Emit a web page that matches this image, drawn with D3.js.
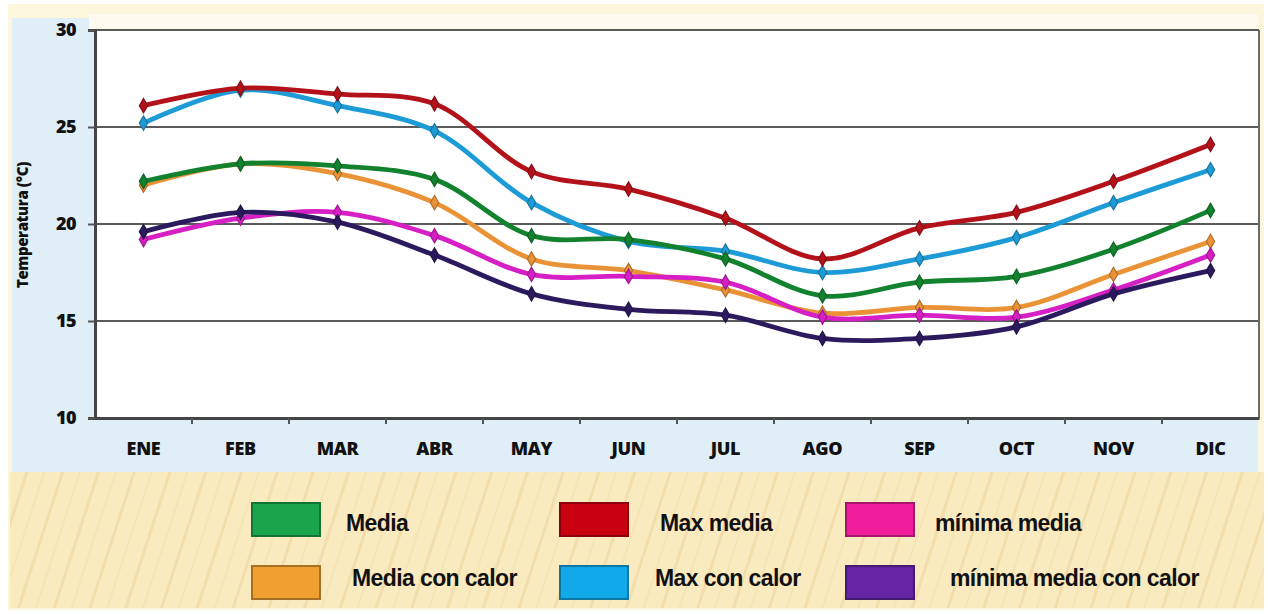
<!DOCTYPE html>
<html>
<head>
<meta charset="utf-8">
<script src="https://cdn.jsdelivr.net/npm/d3@7"></script>
<style>
  html, body { margin: 0; padding: 0; background: #ffffff; }
  svg { display: block; }
</style>
</head>
<body>
<svg id="chart" width="1268" height="614"></svg>
<script>
const months = ["ENE","FEB","MAR","ABR","MAY","JUN","JUL","AGO","SEP","OCT","NOV","DIC"];
const yTicks = [10, 15, 20, 25, 30];

const media            = [22.2, 23.1, 23.0, 22.3, 19.4, 19.2, 18.2, 16.3, 17.0, 17.3, 18.7, 20.7];
const maxMedia         = [26.1, 27.0, 26.7, 26.2, 22.7, 21.8, 20.3, 18.2, 19.8, 20.6, 22.2, 24.1];
const minimaMedia      = [19.2, 20.3, 20.6, 19.4, 17.4, 17.3, 17.0, 15.2, 15.3, 15.2, 16.6, 18.4];
const mediaConCalor    = [22.0, 23.1, 22.6, 21.1, 18.2, 17.6, 16.6, 15.4, 15.7, 15.7, 17.4, 19.1];
const maxConCalor      = [25.2, 26.9, 26.1, 24.8, 21.1, 19.1, 18.6, 17.5, 18.2, 19.3, 21.1, 22.8];
const minimaConCalor   = [19.6, 20.6, 20.1, 18.4, 16.4, 15.6, 15.3, 14.1, 14.1, 14.7, 16.4, 17.6];

const seriesNames  = ["Media", "Max media", "mínima media", "Media con calor", "Max con calor", "mínima media con calor"];
const seriesValues = [media, maxMedia, minimaMedia, mediaConCalor, maxConCalor, minimaConCalor];
const lineColors   = ["#13822f", "#b3121a", "#d61fc4", "#ea9336", "#1d9bd6", "#2c1a5e"];
const swatchColors = ["#1aa54c", "#c8000f", "#f01e9a", "#f0a030", "#12a9e8", "#6424a4"];

const svg = d3.select("#chart");
const W = 1268, H = 614;
const plot = {left: 95, right: 1259, top: 30, bottom: 418};

// defs: stripe pattern for legend area
const defs = svg.append("defs");
const pat = defs.append("pattern").attr("id","stripes").attr("patternUnits","userSpaceOnUse")
  .attr("width", 34).attr("height", 34).attr("patternTransform","rotate(18)");
pat.append("rect").attr("width",34).attr("height",34).attr("fill","#faeac0");
pat.append("rect").attr("x",0).attr("width",3).attr("height",34).attr("fill","#f1dba6").attr("opacity",0.8);
pat.append("rect").attr("x",17).attr("width",2).attr("height",34).attr("fill","#f5e2b2").attr("opacity",0.8);

// backgrounds
svg.append("rect").attr("x",0).attr("y",0).attr("width",W).attr("height",H).attr("fill","#ffffff");
svg.append("rect").attr("x",8).attr("y",4).attr("width",W-12).attr("height",606).attr("fill","#fcf6dc");
svg.append("rect").attr("x",12).attr("y",18).attr("width",W-22).attr("height",454).attr("fill","#dfeef7");
svg.append("rect").attr("x",plot.left - 6).attr("y",14).attr("width",W - plot.left - 4).attr("height",plot.top - 14).attr("fill","#fdfbf0");
svg.append("rect").attr("x",10).attr("y",472).attr("width",W-14).attr("height",136).attr("fill","url(#stripes)");

const x = d3.scaleBand().domain(months).range([plot.left, plot.right]);
const y = d3.scaleLinear().domain([10, 30]).range([plot.bottom, plot.top]);

// plot area
svg.append("rect").attr("x",plot.left).attr("y",plot.top)
  .attr("width",plot.right-plot.left).attr("height",plot.bottom-plot.top).attr("fill","#ffffff");

// gridlines
svg.append("g").selectAll("line").data(yTicks.filter(t => t > 10)).join("line")
  .attr("x1", plot.left).attr("x2", plot.right)
  .attr("y1", d => y(d)).attr("y2", d => y(d))
  .attr("stroke", "#5a5a5a").attr("stroke-width", 2.2);

// right border
svg.append("line").attr("x1",plot.right).attr("x2",plot.right).attr("y1",plot.top).attr("y2",plot.bottom)
  .attr("stroke","#6a6a6a").attr("stroke-width",2);

// y axis
const yAxis = d3.axisLeft(y).tickValues(yTicks).tickSize(7).tickPadding(12);
const gy = svg.append("g").attr("transform",`translate(${plot.left},0)`).call(yAxis);
gy.select(".domain").attr("stroke","#444").attr("stroke-width",3);
gy.selectAll(".tick line").attr("stroke","#555").attr("stroke-width",2);
gy.selectAll(".tick text").attr("font-family","'Open Sans', sans-serif").attr("font-weight",800)
  .attr("font-size",18).attr("fill","#111").attr("letter-spacing","-0.6");

// x axis
const xAxis = d3.axisBottom(x).tickSize(0).tickPadding(24);
const gx = svg.append("g").attr("transform",`translate(0,${plot.bottom})`).call(xAxis);
gx.select(".domain").attr("stroke","#444").attr("stroke-width",3);
gx.selectAll(".tick text").attr("font-family","'Open Sans', sans-serif").attr("font-weight",800)
  .attr("font-size",18).attr("fill","#111").attr("letter-spacing","-0.3");
// category boundary ticks
svg.append("g").selectAll("line").data(months.slice(1)).join("line")
  .attr("x1", d => x(d)).attr("x2", d => x(d))
  .attr("y1", plot.bottom).attr("y2", plot.bottom + 6)
  .attr("stroke","#555").attr("stroke-width",2);

// y axis title
svg.append("text").attr("transform","translate(28,225) rotate(-90)")
  .attr("text-anchor","middle").attr("font-family","'Open Sans', sans-serif")
  .attr("font-weight",800).attr("font-size",15).attr("fill","#111").attr("letter-spacing","-0.4")
  .text("Temperatura (°C)");

// lines
const line = d3.line()
  .x((d, i) => x(months[i]) + x.bandwidth() / 2)
  .y(d => y(d))
  .curve(d3.curveCatmullRom.alpha(0.5));

const order = [3, 4, 0, 1, 2, 5];
const gl = svg.append("g");
order.forEach(k => {
  gl.append("path").datum(seriesValues[k]).attr("d", line)
    .attr("fill","none").attr("stroke", lineColors[k]).attr("stroke-width", 4.8)
    .attr("stroke-linejoin","round").attr("stroke-linecap","round");
  gl.append("g").selectAll("path").data(seriesValues[k]).join("path")
    .attr("d", d3.symbol(d3.symbolDiamond, 60))
    .attr("transform", (d, i) => `translate(${x(months[i]) + x.bandwidth()/2},${y(d)})`)
    .attr("fill", lineColors[k]).attr("stroke", d3.color(lineColors[k]).darker(0.8)).attr("stroke-width", 1.2);
});

// legend
const legendPos = [
  {sx: 252, sy: 503, tx: 346, ty: 531},
  {sx: 560, sy: 503, tx: 660, ty: 531},
  {sx: 846, sy: 503, tx: 935, ty: 531},
  {sx: 252, sy: 566, tx: 352, ty: 586},
  {sx: 560, sy: 566, tx: 655, ty: 586},
  {sx: 846, sy: 566, tx: 950, ty: 586}
];
const lg = svg.append("g");
seriesNames.forEach((name, k) => {
  const p = legendPos[k];
  lg.append("rect").attr("x", p.sx).attr("y", p.sy).attr("width", 68).attr("height", 33)
    .attr("fill", swatchColors[k]).attr("stroke", d3.color(swatchColors[k]).darker(1)).attr("stroke-width", 2);
  lg.append("text").attr("x", p.tx).attr("y", p.ty)
    .attr("font-family","'Liberation Sans', Arial, sans-serif").attr("font-weight",700)
    .attr("font-size",23).attr("fill","#111").attr("letter-spacing","-0.6")
    .text(name);
});
</script>
</body>
</html>
